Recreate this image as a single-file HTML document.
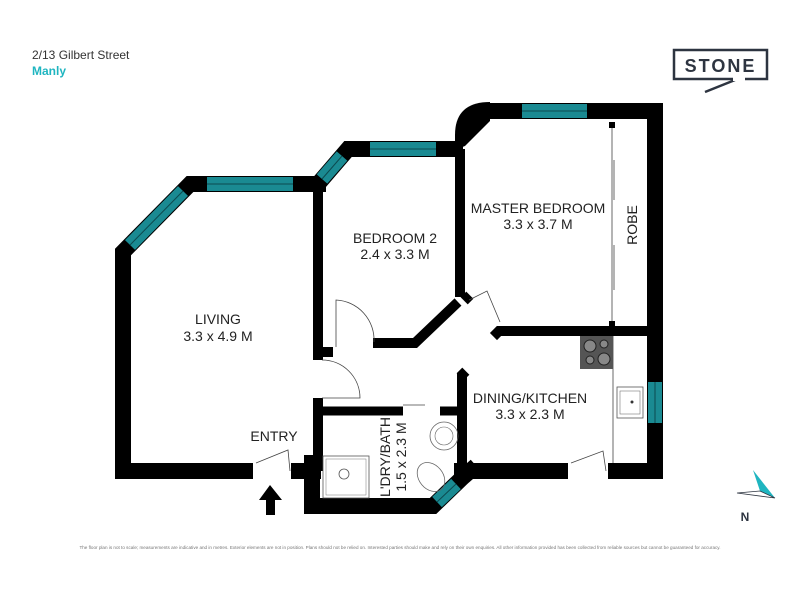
<!DOCTYPE html>
<html><head><meta charset="utf-8"><style>
html,body{margin:0;padding:0;background:#fff;width:800px;height:600px;overflow:hidden}
svg{display:block}
text{font-family:"Liberation Sans",sans-serif}
</style></head><body>
<svg width="800" height="600" viewBox="0 0 800 600" xmlns="http://www.w3.org/2000/svg">
<text x="32" y="59" font-size="12" fill="#333">2/13 Gilbert Street</text>
<text x="32" y="75" font-size="12" font-weight="bold" fill="#1fb5c0">Manly</text>
<!-- logo -->
<rect x="674" y="50" width="93" height="29" fill="none" stroke="#2d3440" stroke-width="2.5"/>
<text x="720.5" y="72" font-size="18" font-weight="bold" fill="#2d3440" text-anchor="middle" letter-spacing="2">STONE</text>
<path d="M735,80 L705,92" stroke="#2d3440" stroke-width="2.5" fill="none"/>
<rect x="733" y="77" width="12" height="4" fill="#fff"/>

<g stroke="#000" stroke-width="16" fill="none" stroke-linejoin="miter" stroke-linecap="square">
<!-- living outer -->
<polyline points="245,471 123,471 123,252 190,184 318,184"/>
<polyline points="299,471 313,471"/>
<!-- bedroom2 -->
<polyline points="318,184 348,149 455,149"/>
<polyline points="318,190 318,360" stroke-width="10" stroke-linecap="butt"/>
<polyline points="318,398 318,471" stroke-width="10" stroke-linecap="butt"/>
<polyline points="318,352 333,352" stroke-width="10" stroke-linecap="butt"/>
<polyline points="373,343 415,343 458,302" stroke-width="10" stroke-linecap="butt"/>
<!-- master -->
<polyline points="460,149 460,297" stroke-width="10" stroke-linecap="butt"/>
<polyline points="490,111 655,111 655,471 616,471"/>
<polyline points="497,331 650,331" stroke-width="10" stroke-linecap="butt"/>
<!-- dining -->
<polyline points="462,373 462,471" stroke-width="10" stroke-linecap="butt"/>
<polyline points="462,471 560,471"/>
<!-- laundry -->
<polyline points="318,411 403,411" stroke-width="9" stroke-linecap="butt"/>
<polyline points="440,411 458,411" stroke-width="9" stroke-linecap="butt"/>
<polyline points="312,463 312,506 433,506 462,478 470,471"/>
</g>
<!-- rounded corner master -->
<path d="M455,150 L455,135 Q455,102 490,102 L490,121 L465,146 Z" fill="#000"/>
<rect x="462" y="294" width="10" height="8" fill="#000" transform="rotate(45 467 298)"/>
<rect x="492" y="328" width="10" height="10" fill="#000" transform="rotate(45 497 333)"/>
<rect x="458" y="370" width="10" height="8" fill="#000" transform="rotate(45 463 374)"/>

<!-- windows -->
<g stroke="#1a8a92" stroke-width="14" fill="none">
<line x1="207" y1="184" x2="293" y2="184"/>
<line x1="130" y1="245" x2="183" y2="191"/>
<line x1="322" y1="179" x2="342" y2="156"/>
<line x1="370" y1="149" x2="436" y2="149"/>
<line x1="522" y1="111" x2="587" y2="111"/>
<line x1="655" y1="382" x2="655" y2="423"/>
<line x1="437" y1="502" x2="456" y2="484"/>
</g>
<g stroke="#0c4a50" stroke-width="1" fill="none">
<line x1="207" y1="184" x2="293" y2="184"/>
<line x1="130" y1="245" x2="183" y2="191"/>
<line x1="322" y1="179" x2="342" y2="156"/>
<line x1="370" y1="149" x2="436" y2="149"/>
<line x1="522" y1="111" x2="587" y2="111"/>
<line x1="655" y1="382" x2="655" y2="423"/>
<line x1="437" y1="502" x2="456" y2="484"/>
</g>

<!-- doors -->
<g stroke="#444" stroke-width="0.8" fill="none">
<path d="M336,347 L336,300 A40,40 0 0 1 374,342"/>
<path d="M322,360 A38,38 0 0 1 360,398 L322,398"/>
<path d="M256,463 L288,450 L290,471"/>
<path d="M571,463 L603,451 L606,471"/>
<path d="M469,300 L487,291 L500,322"/>
<line x1="403" y1="405" x2="425" y2="405"/>
<line x1="612" y1="122" x2="612" y2="327"/>
<line x1="614" y1="160" x2="614" y2="200"/>
<line x1="614" y1="245" x2="614" y2="290"/>
<line x1="613" y1="336" x2="613" y2="463"/>
</g>
<rect x="609" y="122" width="6" height="6" fill="#000"/>
<rect x="609" y="321" width="6" height="6" fill="#000"/>
<!-- cooktop -->
<rect x="580" y="336" width="33" height="33" fill="#555"/>
<g fill="#888" stroke="#222" stroke-width="1"><circle cx="590" cy="346" r="6"/><circle cx="604" cy="344" r="4"/><circle cx="590" cy="360" r="4"/><circle cx="604" cy="359" r="6"/></g>
<!-- sink -->
<rect x="617" y="387" width="26" height="31" fill="#fff" stroke="#555" stroke-width="0.8"/>
<rect x="620" y="391" width="20" height="23" fill="none" stroke="#777" stroke-width="0.6"/>
<circle cx="632" cy="402" r="1.5" fill="#333"/>
<!-- bath fixtures -->
<rect x="323" y="456" width="46" height="42" fill="none" stroke="#555" stroke-width="0.8"/>
<rect x="326" y="459" width="40" height="36" fill="none" stroke="#777" stroke-width="0.5"/>
<circle cx="344" cy="474" r="5" fill="none" stroke="#555" stroke-width="0.8"/>
<circle cx="444" cy="436" r="14" fill="none" stroke="#666" stroke-width="0.8"/>
<circle cx="444" cy="436" r="9" fill="none" stroke="#666" stroke-width="0.6"/>
<ellipse cx="431" cy="477" rx="12" ry="16" transform="rotate(-40 431 477)" fill="none" stroke="#666" stroke-width="0.8"/>

<!-- entry arrow -->
<polygon points="270,485 259,500 266,500 266,515 275,515 275,500 282,500" fill="#000"/>
<!-- compass -->
<polygon points="753,470 775,498 760,491" fill="#1fb5c0"/>
<polygon points="737,493 760,491 775,498" fill="#fff" stroke="#2d3440" stroke-width="0.8"/>
<text x="745" y="521" font-size="12" font-weight="bold" fill="#2d3440" text-anchor="middle">N</text>

<!-- labels -->
<g font-size="14" fill="#222" text-anchor="middle">
<text x="218" y="324">LIVING</text>
<text x="218" y="341">3.3 x 4.9 M</text>
<text x="395" y="243">BEDROOM 2</text>
<text x="395" y="259">2.4 x 3.3 M</text>
<text x="538" y="213">MASTER BEDROOM</text>
<text x="538" y="229">3.3 x 3.7 M</text>
<text x="530" y="403">DINING/KITCHEN</text>
<text x="530" y="419">3.3 x 2.3 M</text>
<text x="274" y="441">ENTRY</text>
<text transform="translate(637,225) rotate(-90)">ROBE</text>
<text transform="translate(390,457) rotate(-90)">L'DRY/BATH</text>
<text transform="translate(406,457) rotate(-90)">1.5 x 2.3 M</text>
</g>
<text x="400" y="549" font-size="4.6" fill="#777" text-anchor="middle">The floor plan is not to scale; measurements are indicative and in metres. Exterior elements are not in position. Plans should not be relied on. Interested parties should make and rely on their own enquiries. All other information provided has been collected from reliable sources but cannot be guaranteed for accuracy.</text>
</svg>
</body></html>
